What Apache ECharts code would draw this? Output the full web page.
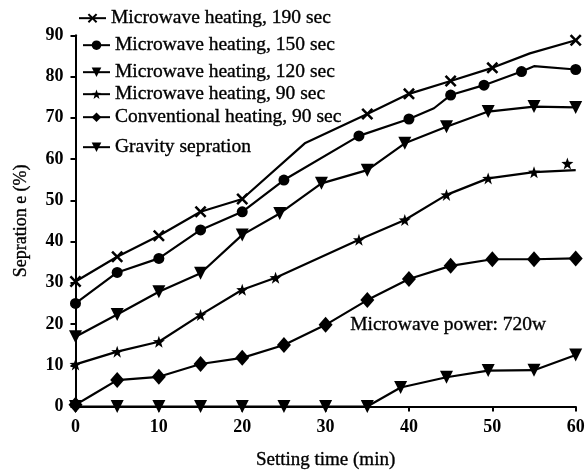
<!DOCTYPE html>
<html>
<head>
<meta charset="utf-8">
<script src="https://cdn.jsdelivr.net/npm/echarts@6/dist/echarts.min.js"></script>
<style>html,body{margin:0;padding:0;background:#fff;}#c{width:587px;height:470px;}</style>
</head>
<body>
<div id="c"></div>
<script>
// ---- data ----
const xTicks = [0, 10, 20, 30, 40, 50, 60];
const yTicks = [0, 10, 20, 30, 40, 50, 60, 70, 80, 90];

const names = [
  'Microwave heating, 190 sec',
  'Microwave heating, 150 sec',
  'Microwave heating, 120 sec',
  'Microwave heating, 90 sec',
  'Conventional heating, 90 sec',
  'Gravity sepration'
];

const t190 = [0, 5, 10, 15, 20, 27.5, 35, 40, 45, 50, 54.5, 60];
const v190 = [30.3, 36.3, 41.4, 47.2, 50.3, 63.8, 70.9, 75.8, 78.9, 82.1, 85.6, 88.8];
const h190 = [27.5, 54.5];

const t150 = [0, 5, 10, 15, 20, 25, 34, 40, 43, 45, 49, 53.5, 55, 60];
const v150 = [25.0, 32.5, 35.9, 42.8, 47.2, 54.9, 65.6, 69.7, 72.3, 75.5, 77.9, 81.2, 82.5, 81.7];
const h150 = [43, 55];

const t120 = [0, 5, 10, 15, 20, 24.5, 29.5, 35, 39.5, 44.5, 49.5, 55, 60];
const v120 = [16.9, 22.3, 27.8, 32.3, 41.6, 46.8, 54.1, 57.3, 63.8, 67.8, 71.5, 72.7, 72.5];
const h120 = [];

const t90 = [0, 5, 10, 15, 20, 24, 34, 39.5, 44.5, 49.5, 55, 60];
const v90 = [10.2, 13.3, 15.7, 22.2, 28.3, 31.2, 40.4, 45.2, 51.3, 55.3, 56.8, 57.3];
const h90 = [60];
const stray90 = [[59, 58.9]];

const tConv = [0, 2, 5, 10, 15, 20, 25, 30, 35, 40, 45, 50, 55, 60];
const vConv = [0.4, 2.8, 6.4, 7.2, 10.3, 11.8, 14.9, 19.8, 25.8, 30.9, 34.1, 35.7, 35.7, 35.9];
const hConv = [2];

const tGrav = [0, 5, 10, 15, 20, 25, 30, 35, 39, 44.5, 49.5, 55, 60];
const vGrav = [0, 0, 0, 0, 0, 0, 0, 0, 4.6, 7.1, 8.7, 8.8, 12.5];
const hGrav = [];

const annotation = 'Microwave power: 720w';

// ---- styling ----
const FONT = "'Liberation Serif','Times New Roman',serif";
const SYM_X = 'path://M3,0 L10,7 L17,0 L20,3 L13,10 L20,17 L17,20 L10,13 L3,20 L0,17 L7,10 L0,3 Z';
const SYM_STAR = 'path://M10,0 L12.4,7 L20,7.3 L14,12 L16.2,19.5 L10,15 L3.8,19.5 L6,12 L0,7.3 L7.6,7 Z';
const HEAVY = { textBorderColor: '#000', textBorderWidth: 0.35 };

function build(ts, vs, hidden) {
  return ts.map((t, i) => {
    const item = { value: [t, vs[i]] };
    if (hidden.indexOf(t) >= 0) item.symbol = 'none';
    return item;
  });
}

const defs = [
  { t: t190, v: v190, h: h190, symbol: SYM_X, size: 12, rot: 0 },
  { t: t150, v: v150, h: h150, symbol: 'circle', size: 11, rot: 0 },
  { t: t120, v: v120, h: h120, symbol: 'triangle', size: 13, rot: 180 },
  { t: t90, v: v90, h: h90, symbol: SYM_STAR, size: 12, rot: 0 },
  { t: tConv, v: vConv, h: hConv, symbol: 'diamond', size: [14, 16], rot: 0 },
  { t: tGrav, v: vGrav, h: hGrav, symbol: 'triangle', size: 13, rot: 180 }
];

const series = defs.map((d, i) => ({
  name: names[i],
  type: 'line',
  data: build(d.t, d.v, d.h),
  symbol: d.symbol,
  symbolSize: d.size,
  symbolRotate: d.rot,
  showAllSymbol: true,
  clip: false,
  lineStyle: { color: '#000', width: 2.2 },
  itemStyle: { color: '#000', opacity: 1 },
  emphasis: { disabled: true },
  z: 3 + i
}));

series.push({
  name: 'stray',
  type: 'scatter',
  data: stray90,
  symbol: SYM_STAR,
  symbolSize: 12,
  itemStyle: { color: '#000', opacity: 1 },
  clip: false,
  silent: true
});

const legendTops = [8, 35, 62, 84, 107, 137];
const legendLefts = [78, 82, 82, 82, 82, 82];
const legends = names.map((n, i) => ({
  data: [n],
  left: legendLefts[i],
  top: legendTops[i],
  padding: 0,
  itemWidth: 27,
  itemHeight: 12,
  selectedMode: false,
  textStyle: Object.assign({ fontFamily: FONT, fontSize: 19.5, color: '#000' }, HEAVY)
}));

const chart = echarts.init(document.getElementById('c'), null, { renderer: 'canvas' });
chart.setOption({
  animation: false,
  backgroundColor: '#fff',
  legend: legends,
  grid: { left: 75.5, right: 11.3, top: 35.25, bottom: 63.5, containLabel: false, outerBoundsMode: 'none' },
  xAxis: {
    type: 'value',
    min: xTicks[0], max: xTicks[xTicks.length - 1], interval: 10,
    name: 'Setting time (min)',
    nameLocation: 'middle',
    nameGap: 44,
    nameTextStyle: Object.assign({ fontFamily: FONT, fontSize: 19, color: '#000' }, HEAVY),
    axisLine: { lineStyle: { color: '#000', width: 2 } },
    axisTick: { show: true, length: 5, lineStyle: { color: '#000', width: 2 } },
    axisLabel: { fontFamily: FONT, fontSize: 18, fontWeight: 'bold', color: '#000', margin: 12 },
    splitLine: { show: false }
  },
  yAxis: {
    type: 'value',
    min: yTicks[0], max: yTicks[yTicks.length - 1], interval: 10,
    name: 'Sepration e (%)',
    nameLocation: 'middle',
    nameGap: 45,
    nameRotate: 90,
    nameTextStyle: Object.assign({ fontFamily: FONT, fontSize: 18, color: '#000' }, HEAVY),
    axisLine: { show: true, lineStyle: { color: '#000', width: 2 } },
    axisTick: { show: true, length: 5, lineStyle: { color: '#000', width: 2 } },
    axisLabel: { fontFamily: FONT, fontSize: 18, fontWeight: 'bold', color: '#000', margin: 12 },
    splitLine: { show: false }
  },
  graphic: [{
    type: 'text',
    left: 350,
    top: 315,
    style: { text: annotation, font: '19.5px ' + FONT, fill: '#000', stroke: '#000', lineWidth: 0.35 }
  }],
  series: series
});
</script>
</body>
</html>
